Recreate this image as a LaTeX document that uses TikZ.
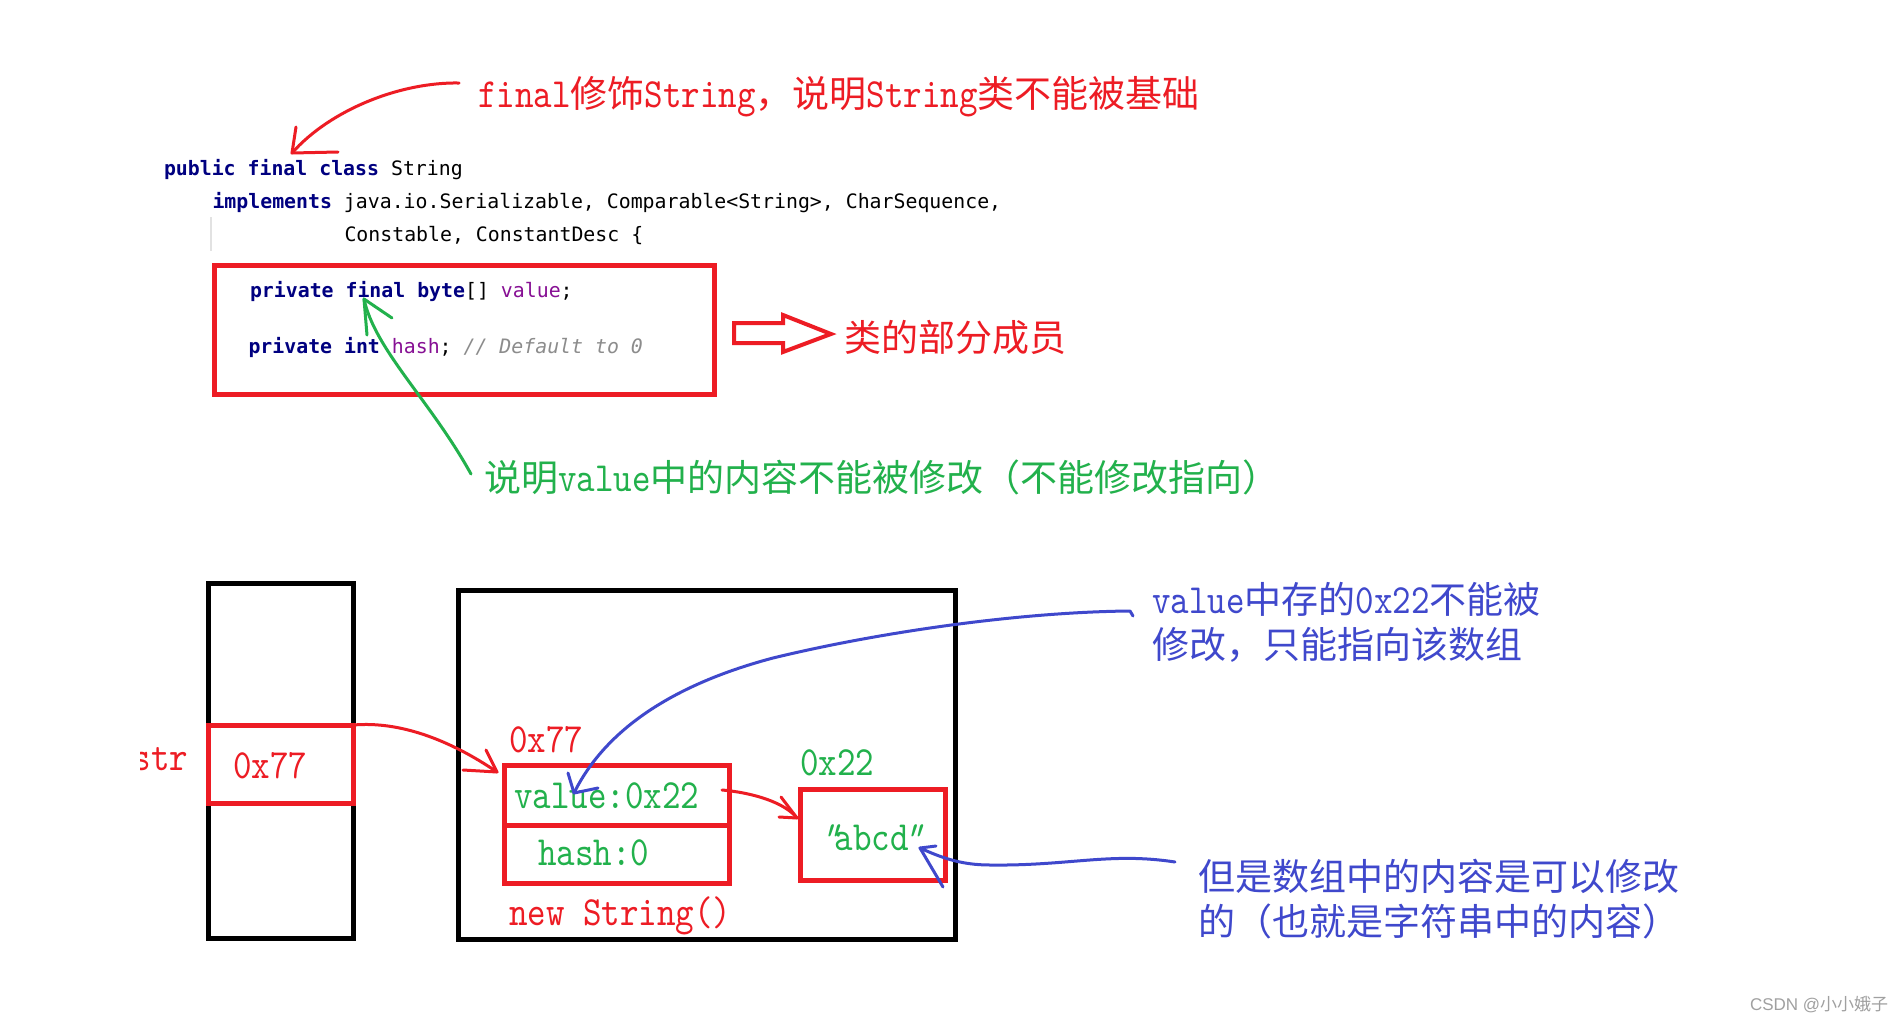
\documentclass[tikz,border=0pt]{standalone}
\usepackage{fontspec}
\newfontfamily\cjk{Noto Sans CJK SC}
\newfontfamily\codefont{DejaVu Sans Mono}
\newfontfamily\lat[FakeStretch=0.85]{lmmono10-regular.otf}
\newfontfamily\latsl[FakeStretch=0.85,FakeSlant=0.3]{lmmono10-regular.otf}
\newfontfamily\wmfont{Liberation Sans}
\definecolor{pred}{HTML}{ED1C24}
\definecolor{pgreen}{HTML}{22B14C}
\definecolor{pblue}{HTML}{3F48CC}
\definecolor{kwnavy}{HTML}{000080}
\definecolor{fldpurple}{HTML}{871094}
\definecolor{cmt}{HTML}{8C8C8C}
\definecolor{guidegray}{HTML}{E2E2E2}
\definecolor{wmgray}{HTML}{A0A0A0}
\newcommand\ltn[1]{{\lat\fontsize{41.5}{45}\selectfont #1}}
\newcommand\dq{{\latsl\fontsize{41.5}{45}\selectfont "}}
\newcommand\kw[1]{{\bfseries\color{kwnavy}#1}}
\newcommand\fld[1]{{\color{fldpurple}#1}}
\tikzset{
  redbox/.style={draw=pred, line width=5, inner sep=0, outer sep=0},
  blackbox/.style={draw=black, line width=5, inner sep=0, outer sep=0},
  pen/.style={line width=3, line cap=round, line join=round},
  redpen/.style={pen, draw=pred},
  greenpen/.style={pen, draw=pgreen},
  bluepen/.style={pen, draw=pblue},
  lbl/.style={anchor=base west, inner sep=0, outer sep=0},
  ann/.style={lbl, font=\cjk\fontsize{37}{45}\selectfont},
  boxlbl/.style={lbl, font=\lat\fontsize{41.5}{45}\selectfont},
  codeline/.style={lbl, font=\codefont\fontsize{19.85}{24}\selectfont},
}
\begin{document}
\begin{tikzpicture}[x=1pt,y=-1pt]
\fill[white] (0,0) rectangle (1904,1023);
\useasboundingbox (0,0) rectangle (1904,1023);

% ---- code ----
\node[codeline] (c1) at (164,175.5) {\kw{public final class} String};
\node[codeline] (c2) at (212.5,208.5) {\kw{implements} java.io.Serializable, Comparable<String>, CharSequence,};
\node[codeline] (c3) at (344.5,241.5) {Constable, ConstantDesc \{};
\draw[guidegray, line width=1.5] (211,217) -- (211,251);
\node[redbox, minimum width=500, minimum height=129] (members) at (464,329.5) {};
\node[codeline] (c4) at (250,297) {\kw{private final byte}[] \fld{value};};
\node[codeline] (c5) at (248.5,353) {\kw{private int} \fld{hash}; {\itshape\color{cmt}// Default to 0}};

% ---- annotations ----
\node[ann, text=pred] (finalnote) at (478,107) {\ltn{final}修饰\ltn{String}，说明\ltn{String}类不能被基础};
\draw[pred, line width=4, line join=miter] (734,323) -- (783,323) -- (783,315) -- (831,334) -- (783,352) -- (783,343) -- (734,343) -- cycle;
\node[ann, text=pred] (memlbl) at (844,351) {类的部分成员};
\node[ann, text=pgreen] (valnote) at (484,491) {说明\ltn{value}中的内容不能被修改（不能修改指向）};
\node[ann, text=pblue, align=left, anchor=west] (refnote) at (1152,622) {\ltn{value}中存的\ltn{0x22}不能被\\修改，只能指向该数组};
\node[ann, text=pblue, align=left, anchor=west] (arrnote) at (1198,899) {但是数组中的内容是可以修改\\的（也就是字符串中的内容）};

% ---- memory boxes ----
\node[blackbox, minimum width=145, minimum height=355] (stack) at (281,761) {};
\node[redbox, minimum width=145, minimum height=78] (strcell) at (281,764) {};
\node[blackbox, minimum width=497, minimum height=349] (heap) at (706.5,765) {};
\node[redbox, minimum width=224.5, minimum height=60] (valcell) at (616.75,795) {};
\node[redbox, minimum width=224.5, minimum height=58] (hashcell) at (616.75,854) {};
\node[redbox, minimum width=145, minimum height=91] (arrcell) at (872.5,834.5) {};

\begin{scope}
  \clip (140,720) rectangle (200,800);
  \node[boxlbl, text=pred] (strlbl) at (132.5,770) {str};
\end{scope}
\node[boxlbl, text=pred] (ptrval) at (233,778) {0x77};
\node[boxlbl, text=pred] (objaddr) at (509,752) {0x77};
\node[boxlbl, text=pgreen] (valtxt) at (514,808) {value:0x22};
\node[boxlbl, text=pgreen] (hashtxt) at (538,865) {hash:0};
\node[boxlbl, text=pred] (newtxt) at (509,925) {new String()};
\node[boxlbl, text=pgreen] (arraddr) at (800,775) {0x22};
\node[boxlbl, text=pgreen] (arrtxt) at (819,850) {\dq\kern-3pt abcd\kern-6pt\dq};

\node[lbl, font=\wmfont\fontsize{17}{20}\selectfont, text=wmgray] (wm) at (1750,1010) {CSDN @{\cjk 小小娥子}};

% ---- hand-drawn arrows ----
\coordinate (a1s) at (459,83);
\coordinate (a1t) at (292,153);
\draw[redpen] (a1s) .. controls (400,82) and (330,110) .. (a1t);
\draw[redpen] (a1t) ++(4,-26) -- (a1t) -- ++(46,-1);

\coordinate (g1s) at (471,474);
\coordinate (g1t) at (364,299);
\draw[greenpen] (g1s) .. controls (430,400) and (375,350) .. (g1t);
\draw[greenpen] (g1t) ++(28,19) -- (g1t) -- ++(3,36);

\coordinate (r2t) at (497,772);
\draw[redpen] (strcell.north east) .. controls (400,721) and (450,740) .. (r2t);
\draw[redpen] (r2t) ++(-11,-22) -- (r2t) -- ++(-34,-2);

\coordinate (r3s) at (722,790);
\coordinate (r3t) at (797,818);
\draw[redpen] (r3s) .. controls (755,793) and (785,803) .. (r3t);
\draw[redpen] (r3t) ++(-16,-21) -- (r3t) -- ++(-18,-1);

\coordinate (b1s) at (1133,616);
\coordinate (b1t) at (574,793);
\draw[bluepen] (b1s) -- (1130,611) .. controls (1020,612) and (880,632) .. (773,658) .. controls (690,680) and (610,720) .. (b1t);
\draw[bluepen] (b1t) ++(-6,-20) -- (b1t) -- ++(24,-5);

\coordinate (b2s) at (1175,862);
\coordinate (b2t) at (920,848);
\draw[bluepen] (b2s) .. controls (1110,852) and (1070,866) .. (990,865) .. controls (960,865) and (940,857) .. (b2t);
\draw[bluepen] (b2t) ++(16,-2) -- (b2t) -- ++(23,39);
\end{tikzpicture}
\end{document}
